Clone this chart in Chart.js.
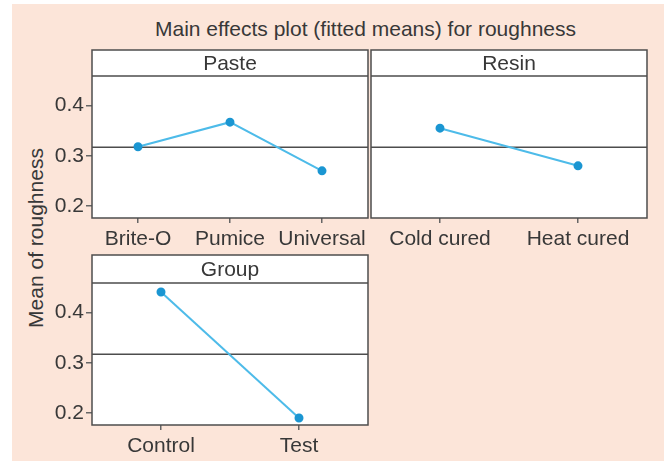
<!DOCTYPE html>
<html>
<head>
<meta charset="utf-8">
<script src="https://cdn.jsdelivr.net/npm/chart.js@4.4.1/dist/chart.umd.min.js"></script>
<style>
  html, body { margin: 0; padding: 0; background: #fff; }
  #wrap { position: relative; width: 668px; height: 463px; overflow: hidden; background: #fff; }
  #bg { position: absolute; left: 12px; top: 4px; width: 652px; height: 457px; background: #fce5d9; }
  .box { position: absolute; }
  #title { position: absolute; left: 0; width: 731px; top: 19px; text-align: center;
    font: 21px 'Liberation Sans', Arial, sans-serif; line-height: 20px; color: #383838; }
  #ytitle { position: absolute; left: 36px; top: 238px; white-space: nowrap;
    transform: translate(-50%, -50%) rotate(-90deg);
    font: 21px 'Liberation Sans', Arial, sans-serif; line-height: 20px; color: #383838; }
</style>
</head>
<body>
<div id="wrap">
  <div id="bg"></div>
  <div id="title">Main effects plot (fitted means) for roughness</div>
  <div id="ytitle">Mean of roughness</div>
  <div class="box" style="left:12px;top:44px;"><canvas id="cPaste" width="362" height="210"></canvas></div>
  <div class="box" style="left:360px;top:44px;"><canvas id="cResin" width="300" height="210"></canvas></div>
  <div class="box" style="left:12px;top:249px;"><canvas id="cGroup" width="362" height="212"></canvas></div>
</div>
<script>
  const pasteLabels = ['Brite-O', 'Pumice', 'Universal'];
  const pasteMeans = [0.318, 0.367, 0.270];
  const resinLabels = ['Cold cured', 'Heat cured'];
  const resinMeans = [0.355, 0.280];
  const groupLabels = ['Control', 'Test'];
  const groupMeans = [0.441, 0.190];
  const yTicks = [0.2, 0.3, 0.4];
  const overallMean = 0.317;
  const yMin = 0.176;
  const yMax = 0.459;

  const frameColor = '#4d4d4d';
  const textColor = '#383838';

  Chart.defaults.font.family = "'Liberation Sans', Arial, sans-serif";
  Chart.defaults.font.size = 21;
  Chart.defaults.color = textColor;

  // white plot area, header strip, frame and the overall mean line
  const panelPlugin = {
    id: 'panel',
    beforeDraw(chart, args, opts) {
      const { ctx, chartArea: a } = chart;
      ctx.save();
      ctx.fillStyle = '#fff';
      ctx.fillRect(a.left, a.top - opts.headerHeight, a.right - a.left, a.bottom - a.top + opts.headerHeight);
      ctx.restore();
    },
    beforeDatasetsDraw(chart, args, opts) {
      const { ctx, chartArea: a } = chart;
      const y = chart.scales.y.getPixelForValue(opts.refValue);
      ctx.save();
      ctx.strokeStyle = frameColor;
      ctx.lineWidth = 1.5;
      ctx.beginPath();
      ctx.moveTo(a.left, y);
      ctx.lineTo(a.right, y);
      ctx.stroke();
      ctx.restore();
    },
    afterDraw(chart, args, opts) {
      const { ctx, chartArea: a } = chart;
      const h = opts.headerHeight;
      ctx.save();
      ctx.strokeStyle = frameColor;
      ctx.lineWidth = 1.5;
      ctx.strokeRect(a.left, a.top - h, a.right - a.left, a.bottom - a.top + h);
      ctx.beginPath();
      ctx.moveTo(a.left, a.top);
      ctx.lineTo(a.right, a.top);
      ctx.stroke();
      ctx.fillStyle = textColor;
      ctx.font = "21px 'Liberation Sans', Arial, sans-serif";
      ctx.textAlign = 'center';
      ctx.textBaseline = 'middle';
      ctx.fillText(opts.title, (a.left + a.right) / 2, a.top - h / 2 + 1);
      ctx.restore();
    }
  };

  function makePanel(id, labels, values, title, headerHeight, showY, padding) {
    return new Chart(document.getElementById(id), {
      type: 'line',
      data: {
        labels: labels,
        datasets: [{
          data: values,
          borderColor: '#4dbbe9',
          borderWidth: 2,
          pointBackgroundColor: '#1b96d2',
          pointBorderColor: '#1b96d2',
          pointRadius: 3.5,
          tension: 0,
        }],
      },
      options: {
        responsive: false,
        animation: false,
        layout: { padding: padding },
        plugins: {
          legend: { display: false },
          tooltip: { enabled: false },
          panel: { title: title, headerHeight: headerHeight, refValue: overallMean },
        },
        scales: {
          x: {
            offset: true,
            grid: { drawOnChartArea: false, drawTicks: true, tickLength: 5, color: '#666', lineWidth: 1.5, offset: false },
            border: { display: false },
            ticks: { padding: 4, color: textColor, maxRotation: 0, autoSkip: false },
            afterFit: (s) => { s.height = 36; },
          },
          y: {
            display: showY,
            min: yMin,
            max: yMax,
            grid: { drawOnChartArea: false, drawTicks: true, tickLength: 6, color: '#666', lineWidth: 1.5 },
            border: { display: false },
            ticks: { padding: 2, color: textColor, callback: (v) => v.toFixed(1) },
            afterBuildTicks: (s) => { s.ticks = yTicks.map((v) => ({ value: v })); },
            afterFit: (s) => { s.width = showY ? 80 : 0; },
          },
        },
      },
      plugins: [panelPlugin],
    });
  }

  makePanel('cPaste', pasteLabels, pasteMeans, 'Paste', 26, true, { top: 32, right: 3, left: 0, bottom: 0 });
  makePanel('cResin', resinLabels, resinMeans, 'Resin', 26, false, { top: 32, right: 13, left: 11, bottom: 0 });
  makePanel('cGroup', groupLabels, groupMeans, 'Group', 28, true, { top: 34, right: 3, left: 0, bottom: 0 });
</script>
</body>
</html>
